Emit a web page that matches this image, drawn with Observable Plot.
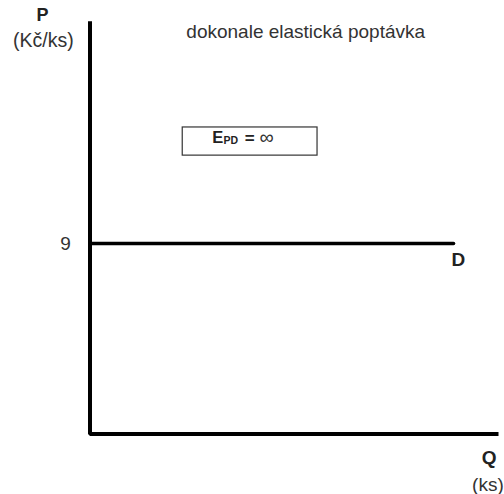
<!DOCTYPE html>
<html>
<head>
<meta charset="utf-8">
<script src="https://cdn.jsdelivr.net/npm/d3@7"></script>
<script src="https://cdn.jsdelivr.net/npm/@observablehq/plot@0.6"></script>
<style>
  html, body { margin: 0; padding: 0; background: #fff; }
  svg { display: block; font-family: "Liberation Sans", Arial, sans-serif; }
</style>
</head>
<body>
<div id="chart"></div>
<script>
// Data
const title = "dokonale elastická poptávka";
const priceLevel = 9;                 // P = 9 Kč/ks
const demandQ = [0, 8.9];             // demand line extent along Q
const demandP = [priceLevel, priceLevel];
const axisQ = [0, 0, 10];             // axes polyline (Q)
const axisP = [19.5, 0, 0];           // axes polyline (P)
const yTickLabels = ["9"];
const yTickValues = [priceLevel];
const elasticityLabel = { base: "E", sub: "PD", eq: "=", inf: "\u221E" };

const demand = demandQ.map((q, i) => ({ q, p: demandP[i] }));
const axes = axisQ.map((q, i) => ({ q, p: axisP[i] }));

const plot = Plot.plot({
  width: 504,
  height: 494,
  margin: 0,
  x: { domain: [0, 10], range: [89.5, 498], axis: null },
  y: { domain: [0, 19.5], range: [433.5, 20.7], axis: null },
  marks: [
    // axes
    Plot.line(axes, { x: "q", y: "p", stroke: "#000", strokeWidth: 4, strokeLinejoin: "miter", strokeLinecap: "butt" }),
    // demand curve
    Plot.line(demand, { x: "q", y: "p", stroke: "#000", strokeWidth: 3.5 }),
    // y tick label
    Plot.text(yTickValues, { x: -0.6, y: d => d, text: (d, i) => yTickLabels[i], fontSize: 19, fill: "#333", textAnchor: "middle" }),
    // axis titles
    Plot.text(["P"], { x: -1.16, y: 19.77, text: d => d, fontSize: 18, fontWeight: "bold", fill: "#222" }),
    Plot.text(["(Kč/ks)"], { x: -1.14, y: 18.59, text: d => d, fontSize: 19.5, fill: "#333" }),
    Plot.text(["Q"], { x: 9.77, y: -1.13, text: d => d, fontSize: 19, fontWeight: "bold", fill: "#222" }),
    Plot.text(["(ks)"], { x: 9.74, y: -2.39, text: d => d, fontSize: 19, fill: "#333" }),
    // demand label
    Plot.text(["D"], { x: 9.02, y: 8.22, text: d => d, fontSize: 19, fontWeight: "bold", fill: "#222" }),
    // title
    Plot.text([title], { x: 5.28, y: 19.01, text: d => d, fontSize: 19, fill: "#333" }),
    // elasticity box
    Plot.rect([0], { x1: 2.27, x2: 5.57, y1: 13.15, y2: 14.48, fill: "#fff", stroke: "#333", strokeWidth: 1.2 }),
    Plot.text([elasticityLabel.base], { x: 2.99, y: 13.98, text: d => d, fontSize: 16.5, fontWeight: "bold", fill: "#222", textAnchor: "start" }),
    Plot.text([elasticityLabel.sub], { x: 3.27, y: 13.84, text: d => d, fontSize: 10.5, fontWeight: "bold", fill: "#222", textAnchor: "start" }),
    Plot.text([elasticityLabel.eq], { x: 3.79, y: 13.98, text: d => d, fontSize: 17, fontWeight: "bold", fill: "#222", textAnchor: "start" }),
    Plot.text([elasticityLabel.inf], { x: 4.15, y: 13.98, text: d => d, fontSize: 20, fill: "#333", textAnchor: "start" })
  ]
});
document.getElementById("chart").appendChild(plot);
</script>
</body>
</html>
